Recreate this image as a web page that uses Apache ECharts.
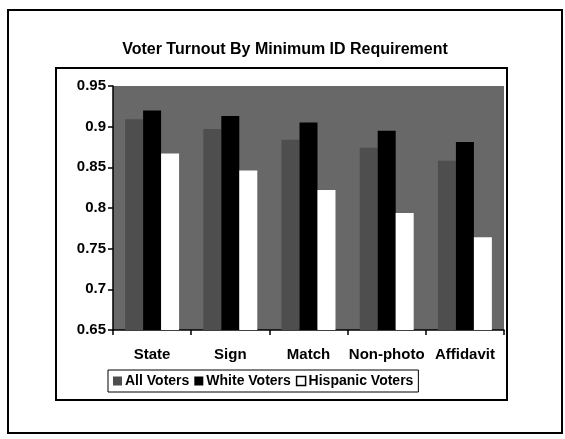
<!DOCTYPE html>
<html><head><meta charset="utf-8">
<script src="https://cdn.jsdelivr.net/npm/echarts@6/dist/echarts.min.js"></script>
<style>html,body{margin:0;padding:0;background:#fff}#c{width:565px;height:439px}</style>
</head><body><div id="c"></div>
<script>
const categories = ['State', 'Sign', 'Match', 'Non-photo', 'Affidavit'];
const allVoters = [0.909, 0.897, 0.884, 0.874, 0.858];
const whiteVoters = [0.920, 0.913, 0.905, 0.895, 0.881];
const hispanicVoters = [0.867, 0.846, 0.822, 0.794, 0.764];
const yTicks = { min: 0.65, max: 0.95, step: 0.05 };

const narrow = "'Liberation Sans Narrow', 'Arial Narrow', 'Liberation Sans', Arial, sans-serif";
const chart = echarts.init(document.getElementById('c'));
chart.setOption({
  backgroundColor: '#fff',
  animation: false,
  title: {
    text: 'Voter Turnout By Minimum ID Requirement',
    left: 280, top: 37, textAlign: 'center',
    textStyle: { fontFamily: 'Liberation Sans, Arial, sans-serif', fontWeight: 'bold', fontSize: 16, color: '#000' }
  },
  graphic: [
    { type: 'rect', z: -10, shape: { x: 8, y: 10, width: 554, height: 423 }, style: { fill: '#fff', stroke: '#000', lineWidth: 2 } },
    { type: 'rect', z: -9, shape: { x: 56, y: 68, width: 451, height: 332 }, style: { fill: '#fff', stroke: '#000', lineWidth: 2 } }
  ],
  grid: { left: 113, right: 61, top: 86, bottom: 109, show: true, backgroundColor: '#686868', borderWidth: 0 },
  legend: {
    left: 108, top: 370, orient: 'horizontal',
    itemWidth: 9, itemHeight: 9, itemGap: 5,
    padding: [4, 5], borderColor: '#000', borderWidth: 1, backgroundColor: '#fff',
    textStyle: { fontFamily: narrow, fontWeight: 'bold', fontSize: 14, color: '#000', padding: [0, 0, 0, -2] },
    data: [
      { name: 'All Voters', icon: 'rect' },
      { name: 'White Voters', icon: 'rect' },
      { name: 'Hispanic Voters', icon: 'rect', itemStyle: { borderColor: '#000', borderWidth: 1.5 } }
    ]
  },
  xAxis: {
    type: 'category', data: categories,
    axisLine: { lineStyle: { color: '#000', width: 1.5 } },
    axisTick: { show: true, alignWithLabel: false, length: 5, lineStyle: { color: '#000', width: 1.5 } },
    axisLabel: { margin: 17, fontFamily: narrow, fontWeight: 'bold', fontSize: 15, color: '#000', interval: 0 }
  },
  yAxis: {
    type: 'value', min: yTicks.min, max: yTicks.max, interval: yTicks.step,
    axisLine: { show: true, lineStyle: { color: '#000', width: 1.5 } },
    axisTick: { show: true, length: 5, lineStyle: { color: '#000', width: 1.5 } },
    splitLine: { show: false },
    axisLabel: { margin: 7, fontFamily: 'Liberation Sans, Arial, sans-serif', fontWeight: 'bold', fontSize: 15, color: '#000' }
  },
  series: [
    { name: 'All Voters', type: 'bar', data: allVoters, barGap: '0%', barCategoryGap: '31%', itemStyle: { color: '#4e4e4e' } },
    { name: 'White Voters', type: 'bar', data: whiteVoters, barGap: '0%', barCategoryGap: '31%', itemStyle: { color: '#000' } },
    { name: 'Hispanic Voters', type: 'bar', data: hispanicVoters, barGap: '0%', barCategoryGap: '31%', itemStyle: { color: '#fff' } }
  ]
});
</script></body></html>
